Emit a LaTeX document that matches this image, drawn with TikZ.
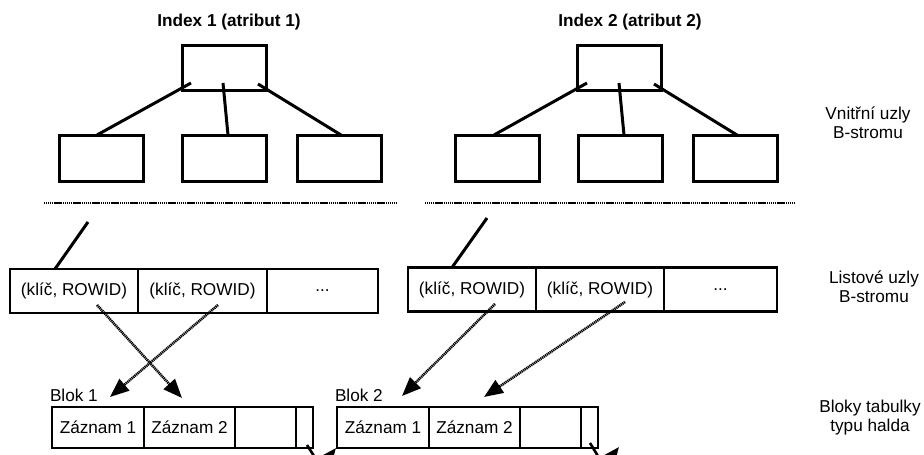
\documentclass[tikz,border=0pt]{standalone}
\usepackage{fontspec}
\setmainfont{Liberation Sans}
\usetikzlibrary{arrows.meta}
\begin{document}
\begin{tikzpicture}[x=1pt,y=-1pt,
  every node/.style={font=\fontsize{17.2}{19}\selectfont, inner sep=0pt, outer sep=0pt},
  box/.style={draw, line width=3pt, minimum width=84pt, minimum height=45pt},
  cell/.style={draw, line width=2.8pt, minimum height=44pt},
  rec/.style={draw, line width=2.8pt, minimum height=41pt},
  link/.style={line width=3pt},
  sepline/.style={line width=2.4pt, dash pattern=on 1.3pt off 0.6pt},
  ptr/.style={line width=2.6pt, dash pattern=on 1.2pt off 0.7pt, -{Triangle[length=19pt,width=15pt]}},
  chain/.style={line width=2.6pt, -{Triangle[length=15pt,width=12pt]}},
  title/.style={font=\bfseries\fontsize{17.2}{19}\selectfont, anchor=base},
  side/.style={align=center}
]
\useasboundingbox (0,0) rectangle (924,455);
\clip (0,0) rectangle (924,455);

% titles
\node[title] (t1) at (229,26) {Index 1 (atribut 1)};
\node[title] (t2) at (630,26) {Index 2 (atribut 2)};

% index 1 inner nodes
\node[box] (r1) at (224,67.5) {};
\node[box, minimum height=46pt] (c11) at (101,158) {};
\node[box, minimum height=46pt] (c12) at (224,158) {};
\node[box, minimum height=46pt] (c13) at (339.5,158) {};
\coordinate (r1a) at (191,83);
\coordinate (r1b) at (223,83);
\coordinate (r1c) at (258,84);
\draw[link] (r1a) -- (c11.north -| 97,0);
\draw[link] (r1b) -- (c12.north -| 228,0);
\draw[link] (r1c) -- (c13.north -| 341,0);

% index 2 inner nodes
\node[box] (r2) at (619.5,67.5) {};
\node[box, minimum height=46pt] (c21) at (497,158) {};
\node[box, minimum height=46pt] (c22) at (620,158) {};
\node[box, minimum height=46pt] (c23) at (735,158) {};
\coordinate (r2a) at (587,83);
\coordinate (r2b) at (619,83);
\coordinate (r2c) at (654,84);
\draw[link] (r2a) -- (c21.north -| 494,0);
\draw[link] (r2b) -- (c22.north -| 624,0);
\draw[link] (r2c) -- (c23.north -| 737,0);

% separators
\coordinate (s1a) at (44,203);
\coordinate (s1b) at (396,203);
\coordinate (s2a) at (425,203);
\coordinate (s2b) at (794,203);
\draw[sepline] (s1a) -- (s1b);
\draw[sepline] (s2a) -- (s2b);

% leaf row 1
\node[cell, minimum width=128pt] (l11) at (74,291) {(klíč, ROWID)};
\node[cell, minimum width=129pt] (l12) at (202.5,291) {(klíč, ROWID)};
\node[cell, minimum width=111pt] (l13) at (322.5,291) {...};
% leaf row 2
\node[cell, minimum width=128pt] (l21) at (472,289.5) {(klíč, ROWID)};
\node[cell, minimum width=128pt] (l22) at (600,289.5) {(klíč, ROWID)};
\node[cell, minimum width=113pt] (l23) at (720.5,289.5) {...};

\coordinate (u1) at (88,222);
\coordinate (u2) at (487,218);
\draw[link] (u1) -- (l11.north -| 55,0);
\draw[link] (u2) -- (l21.north -| 452,0);

% heap blocks
\node[anchor=west] (bl1) at (50,395) {Blok 1};
\node[rec, minimum width=92pt] (b11) at (98,427.5) {Záznam 1};
\node[rec, minimum width=91pt] (b12) at (189.5,427.5) {Záznam 2};
\node[rec, minimum width=61pt] (b13) at (265.5,427.5) {};
\node[rec, minimum width=17pt] (b14) at (304.5,427.5) {};

\node[anchor=west] (bl2) at (335,395) {Blok 2};
\node[rec, minimum width=92pt] (b21) at (383,427.5) {Záznam 1};
\node[rec, minimum width=91pt] (b22) at (474.5,427.5) {Záznam 2};
\node[rec, minimum width=61pt] (b23) at (550.5,427.5) {};
\node[rec, minimum width=17pt] (b24) at (589.5,427.5) {};

% rowid pointers
\coordinate (p11) at (97,305);
\coordinate (p12) at (218,305);
\coordinate (p21) at (495,304);
\coordinate (p22) at (625,302);
\coordinate (h1) at (182,398);
\coordinate (h2) at (110,397);
\coordinate (h3) at (402,396);
\coordinate (h4) at (484,397);
\draw[ptr] (p11) -- (h1);
\draw[ptr] (p12) -- (h2);
\draw[ptr] (p21) -- (h3);
\draw[ptr] (p22) -- (h4);

% block chain
\coordinate (k1) at (307,445);
\coordinate (k1m) at (321,467);
\coordinate (k1e) at (336,448);
\coordinate (k2) at (590,443);
\coordinate (k2m) at (604,466);
\coordinate (k2e) at (619,447);
\draw[chain] (k1) -- (k1m) -- (k1e);
\draw[chain] (k2) -- (k2m) -- (k2e);

% side labels
\node[side] (lab1) at (868,123) {Vnitřní uzly\\B-stromu};
\node[side] (lab2) at (874,287) {Listové uzly\\B-stromu};
\node[side] (lab3) at (870,418) {Bloky tabulky\\typu halda};
\end{tikzpicture}
\end{document}
